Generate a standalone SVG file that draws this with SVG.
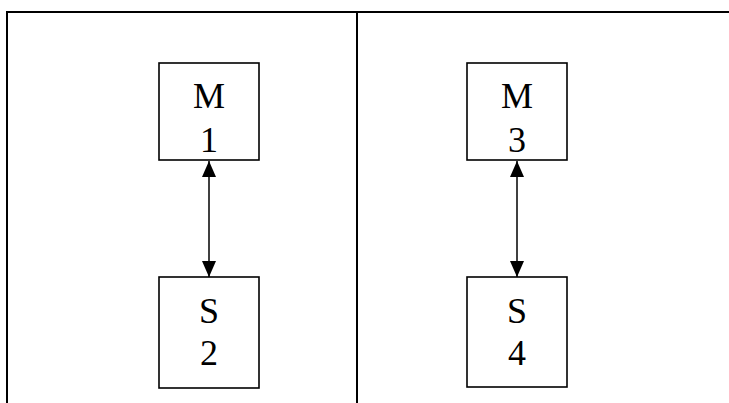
<svg xmlns="http://www.w3.org/2000/svg" width="729" height="403" viewBox="0 0 729 403">
<style>
.frame{stroke:#000;stroke-width:2;fill:none}
.box{fill:#fff;stroke:#000;stroke-width:1.6}
.lbl{font-family:"Liberation Serif",serif;font-size:36px;fill:#000;text-anchor:middle}
.conn{stroke:#000;stroke-width:1.5;fill:none}
</style>
<defs>
<marker id="ah" markerWidth="16" markerHeight="14" refX="16" refY="7" orient="auto-start-reverse" markerUnits="userSpaceOnUse">
<path d="M0,0 L16,7 L0,14 Z" fill="#000"/>
</marker>
</defs>
<rect width="729" height="403" fill="#fff"/>
<g id="frame">
<line class="frame" x1="6" y1="12" x2="729" y2="12"/>
<line class="frame" x1="7" y1="11" x2="7" y2="403"/>
<line class="frame" x1="357" y1="12" x2="357" y2="403"/>
</g>
<g id="connectors">
<line class="conn" x1="209" y1="161" x2="209" y2="277" marker-start="url(#ah)" marker-end="url(#ah)"/>
<line class="conn" x1="517" y1="161" x2="517" y2="277" marker-start="url(#ah)" marker-end="url(#ah)"/>
</g>
<g id="M1">
<rect class="box" x="159" y="63" width="100" height="97"/>
<text class="lbl" x="209" y="108">M</text>
<text class="lbl" x="209" y="152">1</text>
</g>
<g id="S2">
<rect class="box" x="159" y="277" width="100" height="111"/>
<text class="lbl" x="209" y="323">S</text>
<text class="lbl" x="209" y="365">2</text>
</g>
<g id="M3">
<rect class="box" x="467" y="63" width="100" height="97"/>
<text class="lbl" x="517" y="108">M</text>
<text class="lbl" x="517" y="152">3</text>
</g>
<g id="S4">
<rect class="box" x="467" y="277" width="100" height="110"/>
<text class="lbl" x="517" y="323">S</text>
<text class="lbl" x="517" y="365">4</text>
</g>
</svg>
